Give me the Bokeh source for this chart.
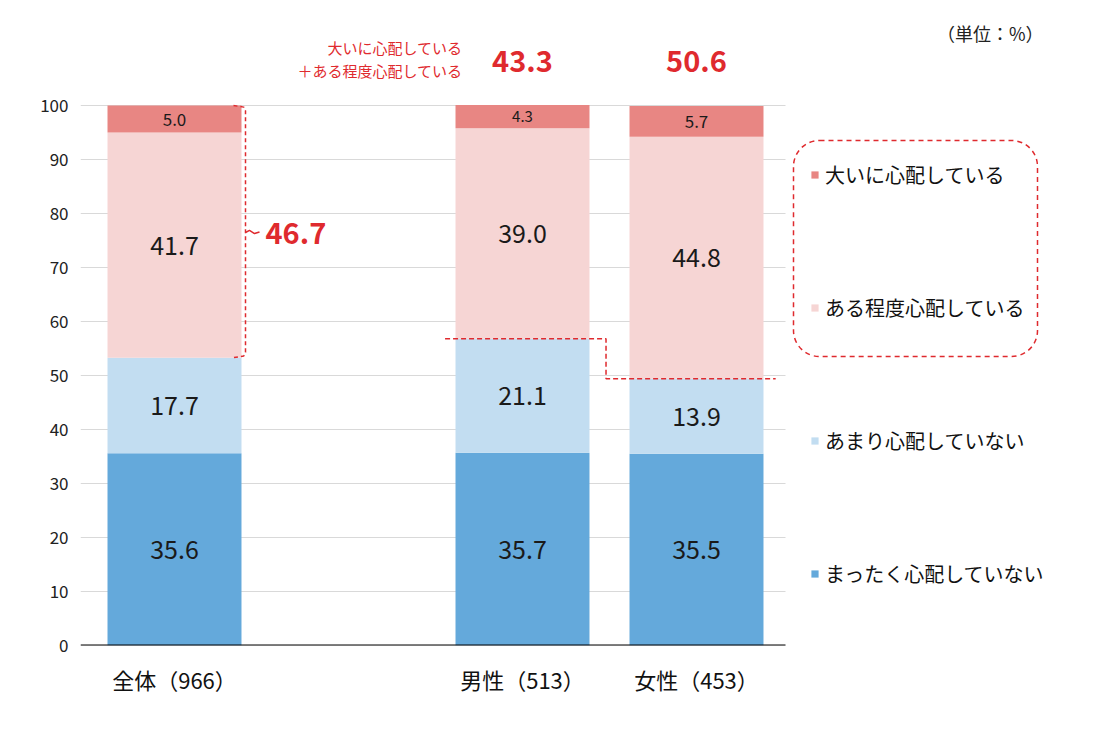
from bokeh.plotting import figure
from bokeh.models import Range1d, FixedTicker, Legend, LegendItem, BoxAnnotation, ColumnDataSource
from bokeh.core.properties import value
from bokeh.embed import file_html
from bokeh.resources import INLINE

# ---------------- data ----------------
categories = ["全体（966）", "男性（513）", "女性（453）"]
series_names = ["まったく心配していない", "あまり心配していない", "ある程度心配している", "大いに心配している"]
not_at_all = [35.6, 35.7, 35.5]
not_much = [17.7, 21.1, 13.9]
somewhat = [41.7, 39.0, 44.8]
very = [5.0, 4.3, 5.7]
concern_totals = [46.7, 43.3, 50.6]
y_ticks = [0, 10, 20, 30, 40, 50, 60, 70, 80, 90, 100]
unit_label = "（単位：%）"
note_lines = ["大いに心配している", "＋ある程度心配している"]

# ---------------- style ----------------
FONT = value("Noto Sans CJK JP")
colors = ["#64A9DB", "#C2DDF1", "#F6D5D4", "#E88683"]
RED = "#DF2A2E"
W, H = 1094, 739

# layout helpers (pixel -> data)
X0PX, XUNIT = 174.0, 174.0
Y0PX, YUNIT = 645.0, 5.4


def px2x(px):
    return (px - X0PX) / XUNIT


def py2y(py):
    return (Y0PX - py) / YUNIT


x_pos = [0, 2, 3]  # slot positions, one empty slot after 全体
bar_w = 0.77

p = figure(width=W, height=H,
           x_range=Range1d(px2x(80), px2x(W)),
           y_range=Range1d(py2y(645), py2y(0)),
           output_backend="svg", toolbar_location=None,
           min_border_left=80, min_border_right=0, min_border_top=0, min_border_bottom=94)
p.outline_line_color = None
p.xgrid.visible = False
p.ygrid.visible = False
p.background_fill_color = "white"

# gridlines
p.segment(x0=[px2x(80)] * len(y_ticks), y0=y_ticks, x1=[px2x(785)] * len(y_ticks), y1=y_ticks,
          line_color="#D9D9D9", line_width=1)

keys = ["s0", "s1", "s2", "s3"]
source = ColumnDataSource(dict(x=x_pos, s0=not_at_all, s1=not_much, s2=somewhat, s3=very))
renderers = p.vbar_stack(keys, x="x", width=bar_w, color=colors, line_color=None, source=source)

# baseline
p.segment(x0=[px2x(80)], y0=[0], x1=[px2x(785)], y1=[0], line_color="black", line_width=2)

# value labels
lx, ly, lt, lfs = [], [], [], []
for i, xp in enumerate(x_pos):
    bottom = 0.0
    for vals in (not_at_all, not_much, somewhat, very):
        v = vals[i]
        lx.append(xp)
        ly.append(bottom + v / 2)
        lt.append(f"{v:.1f}")
        lfs.append("15px" if v < 4.5 else ("17px" if v < 10 else "25px"))
        bottom += v
p.text(x=lx, y=ly, text=lt, text_font_size=lfs, text_align="center", text_baseline="middle",
       text_font=FONT, text_color="#1a1a1a")

# axes
p.yaxis.ticker = FixedTicker(ticks=y_ticks)
p.yaxis.axis_line_color = None
p.yaxis.major_tick_line_color = None
p.yaxis.minor_tick_line_color = None
p.yaxis.major_tick_out = 0
p.yaxis.major_label_text_font_size = "17px"
p.yaxis.major_label_text_font = "Noto Sans CJK JP"
p.yaxis.major_label_text_color = "#222222"
p.yaxis.major_label_standoff = 12

p.xaxis.ticker = FixedTicker(ticks=x_pos)
p.xaxis.major_label_overrides = {xp: c for xp, c in zip(x_pos, categories)}
p.xaxis.axis_line_color = None
p.xaxis.major_tick_line_color = None
p.xaxis.minor_tick_line_color = None
p.xaxis.major_tick_out = 0
p.xaxis.major_label_text_font_size = "22px"
p.xaxis.major_label_text_font = "Noto Sans CJK JP"
p.xaxis.major_label_text_color = "#111111"
p.xaxis.major_label_standoff = 17

# brace next to 全体
b_top = not_at_all[0] + not_much[0] + somewhat[0] + very[0]
b_bot = not_at_all[0] + not_much[0]
xb = px2x(245)
p.line(x=[px2x(233), xb - 0.01, xb, xb, xb - 0.01, px2x(233)],
       y=[b_top, b_top - 0.3, b_top - 1.0, b_bot + 1.0, b_bot + 0.3, b_bot],
       line_color=RED, line_width=1.5, line_dash="4 3")
mid = py2y(232)
p.line(x=[xb, px2x(249), px2x(254), px2x(259)], y=[mid, mid + 0.4, mid - 0.2, mid + 0.1],
       line_color=RED, line_width=1.5)
p.text(x=[px2x(265)], y=[mid], text=[f"{concern_totals[0]:.1f}"], text_font_size="29px",
       text_font_style="bold", text_align="left", text_baseline="middle", text_font=FONT, text_color=RED)

# step line for 男性 / 女性
m_y = not_at_all[1] + not_much[1]
f_y = not_at_all[2] + not_much[2]
xm = (x_pos[1] + x_pos[2]) / 2 - 0.02
p.line(x=[x_pos[1] - bar_w / 2 - 0.06, xm, xm, x_pos[2] + bar_w / 2 + 0.07],
       y=[m_y, m_y, f_y, f_y], line_color=RED, line_width=1.5, line_dash="5 3")

# top totals
p.text(x=x_pos[1:], y=[py2y(60)] * 2, text=[f"{t:.1f}" for t in concern_totals[1:]],
       text_font_size="29px", text_font_style="bold", text_align="center", text_baseline="middle",
       text_font=FONT, text_color=RED)
p.text(x=[px2x(462)] * 2, y=[py2y(47), py2y(70)], text=note_lines, text_font_size="15px",
       text_align="right", text_baseline="middle", text_font=FONT, text_color=RED)

# unit
p.text(x=[px2x(1043)], y=[py2y(32)], text=[unit_label], text_font_size="18px",
       text_align="right", text_baseline="middle", text_font=FONT, text_color="#222222")

# legend
items = [LegendItem(label=series_names[k], renderers=[renderers[k]]) for k in (3, 2, 1, 0)]
legend = Legend(items=items, location=(730, 57), orientation="vertical",
                glyph_width=9, glyph_height=9, label_standoff=6, spacing=104,
                padding=0, margin=0, border_line_color=None, background_fill_alpha=0,
                label_text_font="Noto Sans CJK JP", label_text_font_size="20px",
                label_text_color="#111111", label_height=24)
p.add_layout(legend, "center")

# dashed rounded box around first two legend items
p.add_layout(BoxAnnotation(left=px2x(793), right=px2x(1037), top=py2y(140), bottom=py2y(356),
                           fill_alpha=0, line_color=RED, line_alpha=1.0, line_width=1.5, line_dash="5 4",
                           border_radius=26, level="overlay"))

open("out.html", "w").write(file_html(p, INLINE))
